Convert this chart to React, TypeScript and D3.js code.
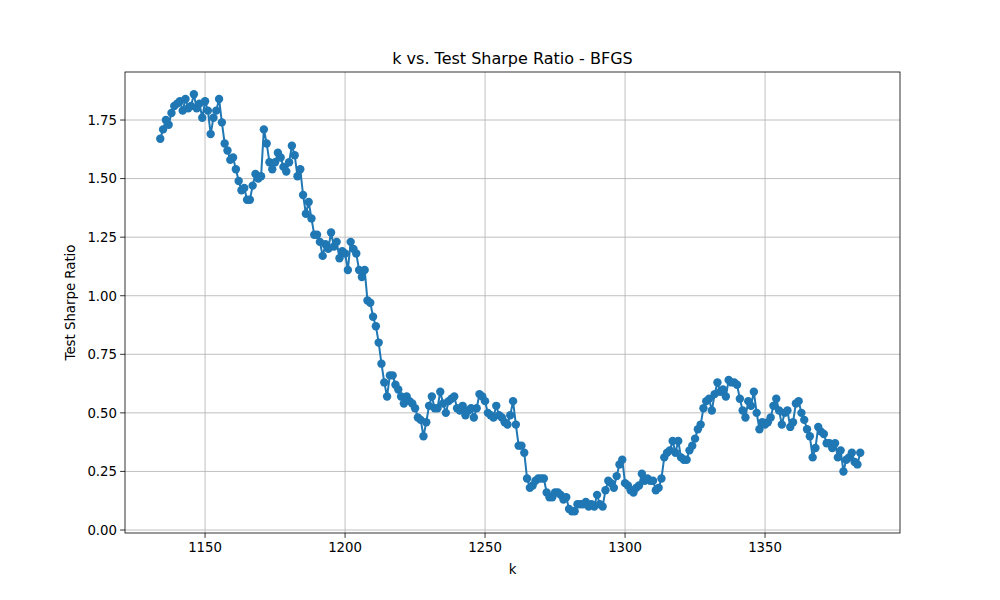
import * as d3 from 'd3';
import React from 'react';

const startK = 1134;
const sharpe = [
  1.67, 1.71, 1.75, 1.73, 1.78, 1.81, 1.82, 1.83, 1.79, 1.84,
  1.80, 1.81, 1.86, 1.80, 1.82, 1.76, 1.83, 1.79, 1.69, 1.76,
  1.79, 1.84, 1.74, 1.65, 1.62, 1.58, 1.59, 1.54, 1.49, 1.45,
  1.46, 1.41, 1.41, 1.47, 1.52, 1.50, 1.51, 1.71, 1.65, 1.57,
  1.54, 1.57, 1.61, 1.59, 1.55, 1.53, 1.57, 1.64, 1.60, 1.51,
  1.54, 1.43, 1.35, 1.40, 1.33, 1.26, 1.26, 1.23, 1.17, 1.22,
  1.20, 1.27, 1.21, 1.23, 1.16, 1.19, 1.18, 1.11, 1.23, 1.20,
  1.18, 1.11, 1.08, 1.11, 0.98, 0.97, 0.91, 0.87, 0.80, 0.71,
  0.63, 0.57, 0.66, 0.66, 0.62, 0.60, 0.57, 0.54, 0.57, 0.55,
  0.54, 0.52, 0.48, 0.47, 0.40, 0.46, 0.53, 0.57, 0.52, 0.52,
  0.59, 0.54, 0.50, 0.55, 0.56, 0.57, 0.52, 0.51, 0.53, 0.49,
  0.51, 0.52, 0.48, 0.52, 0.58, 0.57, 0.55, 0.50, 0.49, 0.48,
  0.53, 0.49, 0.48, 0.46, 0.45, 0.49, 0.55, 0.45, 0.36, 0.36,
  0.33, 0.22, 0.18, 0.19, 0.21, 0.22, 0.22, 0.22, 0.16, 0.14,
  0.14, 0.16, 0.16, 0.15, 0.13, 0.14, 0.09, 0.08, 0.08, 0.11,
  0.11, 0.11, 0.12, 0.10, 0.11, 0.10, 0.15, 0.11, 0.10, 0.17,
  0.21, 0.20, 0.18, 0.23, 0.28, 0.30, 0.20, 0.19, 0.17, 0.16,
  0.18, 0.19, 0.24, 0.21, 0.22, 0.21, 0.21, 0.17, 0.18, 0.22,
  0.31, 0.33, 0.34, 0.38, 0.33, 0.38, 0.31, 0.30, 0.30, 0.34,
  0.36, 0.39, 0.43, 0.45, 0.52, 0.55, 0.56, 0.51, 0.58, 0.63,
  0.59, 0.60, 0.57, 0.64, 0.63, 0.63, 0.62, 0.56, 0.51, 0.48,
  0.55, 0.53, 0.59, 0.50, 0.43, 0.46, 0.45, 0.46, 0.48, 0.53,
  0.56, 0.51, 0.45, 0.50, 0.51, 0.44, 0.46, 0.54, 0.55, 0.50,
  0.47, 0.43, 0.40, 0.31, 0.35, 0.44, 0.42, 0.41, 0.37, 0.37,
  0.35, 0.37, 0.31, 0.34, 0.25, 0.30, 0.31, 0.33, 0.29, 0.28,
  0.33,
];
const xTicks = [1150, 1200, 1250, 1300, 1350];
const yTicks = [0, 0.25, 0.5, 0.75, 1.0, 1.25, 1.5, 1.75];

const W = 1000;
const H = 600;
const left = 125, right = 900, top = 72, bottom = 533;
const font = 'DejaVu Sans, sans-serif';

export default function App() {
  const data = sharpe.map((v, i) => ({ k: startK + i, v }));
  const x = d3.scaleLinear().domain([1121.4, 1398.2]).range([left, right]);
  const y = d3.scaleLinear().domain([-0.0128, 1.955]).range([bottom, top]);
  const line = d3
    .line<{ k: number; v: number }>()
    .x((d) => x(d.k))
    .y((d) => y(d.v));

  return (
    <svg width={W} height={H} style={{ position: 'absolute', left: 0, top: 0 }} fontFamily={font}>
      <rect width={W} height={H} fill="white" />
      {xTicks.map((t) => (
        <g key={'x' + t}>
          <line x1={x(t)} x2={x(t)} y1={top} y2={bottom} stroke="#b0b0b0" strokeWidth={0.8} />
          <line x1={x(t)} x2={x(t)} y1={bottom} y2={bottom + 4.9} stroke="black" strokeWidth={0.8} />
          <text x={x(t)} y={bottom + 19} textAnchor="middle" fontSize={13.3}>{t}</text>
        </g>
      ))}
      {yTicks.map((t) => (
        <g key={'y' + t}>
          <line x1={left} x2={right} y1={y(t)} y2={y(t)} stroke="#b0b0b0" strokeWidth={0.8} />
          <line x1={left - 4.9} x2={left} y1={y(t)} y2={y(t)} stroke="black" strokeWidth={0.8} />
          <text x={left - 8} y={y(t) + 4.8} textAnchor="end" fontSize={13.3}>{t.toFixed(2)}</text>
        </g>
      ))}
      <path d={line(data) ?? ''} fill="none" stroke="#1f77b4" strokeWidth={2} />
      {data.map((d) => (
        <circle key={d.k} cx={x(d.k)} cy={y(d.v)} r={4.2} fill="#1f77b4" />
      ))}
      <rect x={left} y={top} width={right - left} height={bottom - top} fill="none" stroke="black" strokeWidth={0.8} />
      <text x={(left + right) / 2} y={top - 8} textAnchor="middle" fontSize={16}>k vs. Test Sharpe Ratio - BFGS</text>
      <text x={(left + right) / 2} y={574} textAnchor="middle" fontSize={13.3}>k</text>
      <text transform={`translate(75,${(top + bottom) / 2}) rotate(-90)`} textAnchor="middle" fontSize={13.3}>Test Sharpe Ratio</text>
    </svg>
  );
}
